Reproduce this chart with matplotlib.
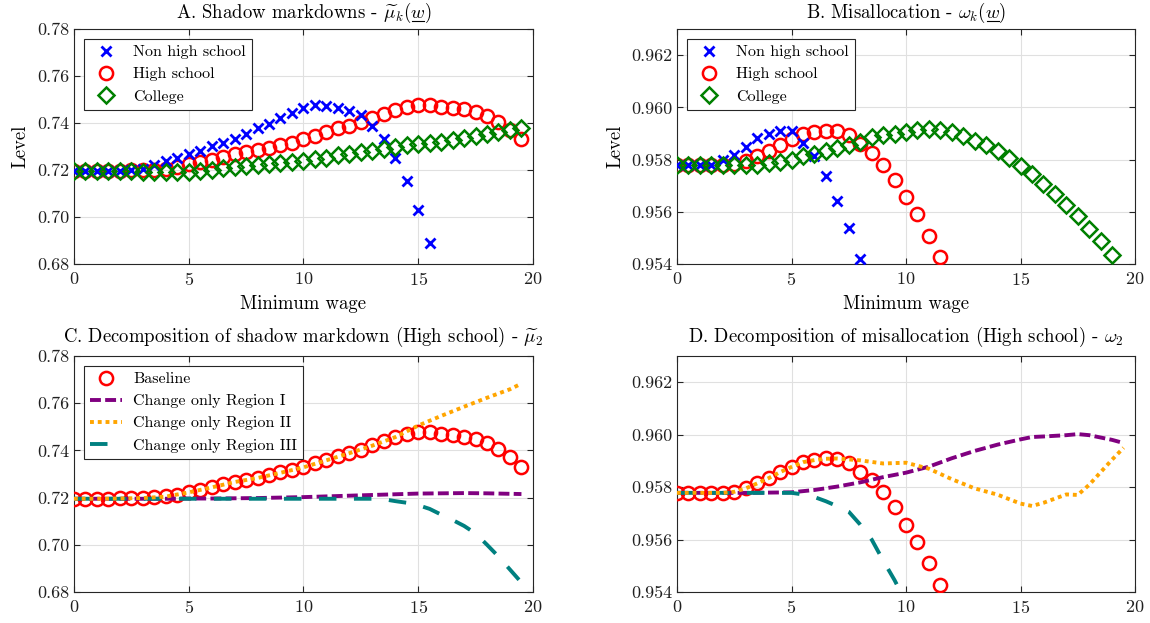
import numpy as np
import matplotlib
matplotlib.use('Agg')
import matplotlib.pyplot as plt
from matplotlib import rcParams
from matplotlib.ticker import FormatStrFormatter
from matplotlib.lines import Line2D

# 字体设置 (Computer Modern 风格)
config = {
    "font.family": 'serif',
    "font.serif": ['cmr10'],
    "mathtext.fontset": 'cm',
    "axes.formatter.use_mathtext": True,
    "font.size": 12,
    'axes.unicode_minus': False,
}
rcParams.update(config)

# ---------------- 数据 ----------------
wage = np.arange(0, 20, 0.5)

# Panel A: shadow markdowns
mu_nonhs = [0.7196, 0.7196, 0.7196, 0.7196, 0.7197, 0.7200, 0.7206, 0.7220, 0.7239, 0.7252,
            0.7269, 0.7283, 0.7301, 0.7313, 0.7331, 0.7352, 0.7379, 0.7395, 0.7423, 0.7444,
            0.7465, 0.7478, 0.7472, 0.7465, 0.7453, 0.7433, 0.7386, 0.7332, 0.7251, 0.7152,
            0.7032, 0.6890]
mu_hs = [0.7196, 0.7196, 0.7196, 0.7196, 0.7197, 0.7198, 0.7200, 0.7201, 0.7205, 0.7212,
         0.7224, 0.7234, 0.7244, 0.7256, 0.7268, 0.7276, 0.7284, 0.7294, 0.7307, 0.7316,
         0.7330, 0.7345, 0.7361, 0.7378, 0.7389, 0.7403, 0.7423, 0.7440, 0.7455, 0.7468,
         0.7477, 0.7477, 0.7469, 0.7465, 0.7458, 0.7447, 0.7430, 0.7406, 0.7372, 0.7330]
mu_col = [0.7194, 0.7194, 0.7194, 0.7194, 0.7194, 0.7194, 0.7193, 0.7193, 0.7193, 0.7193,
          0.7193, 0.7197, 0.7201, 0.7207, 0.7212, 0.7217, 0.7221, 0.7225, 0.7230, 0.7234,
          0.7239, 0.7245, 0.7251, 0.7262, 0.7268, 0.7276, 0.7282, 0.7289, 0.7297, 0.7306,
          0.7310, 0.7314, 0.7320, 0.7328, 0.7337, 0.7345, 0.7355, 0.7362, 0.7371, 0.7379]

# Panel B: misallocation
om_nonhs = [0.95778, 0.95778, 0.95778, 0.95778, 0.95797, 0.95819, 0.95850, 0.95884, 0.95898,
            0.95911, 0.95909, 0.95864, 0.95813, 0.95737, 0.95643, 0.95538, 0.95418]
om_hs = [0.95778, 0.95778, 0.95778, 0.95778, 0.95778, 0.95782, 0.95795, 0.95814, 0.95834,
         0.95857, 0.95877, 0.95897, 0.95904, 0.95911, 0.95909, 0.95893, 0.95859, 0.95826,
         0.95780, 0.95723, 0.95657, 0.95590, 0.95509, 0.95425]
om_col = [0.95778, 0.95778, 0.95778, 0.95778, 0.95778, 0.95778, 0.95780, 0.95780, 0.95788,
          0.95792, 0.95797, 0.95813, 0.95820, 0.95832, 0.95843, 0.95854, 0.95867, 0.95885,
          0.95895, 0.95897, 0.95904, 0.95912, 0.95916, 0.95912, 0.95904, 0.95890, 0.95873,
          0.95855, 0.95832, 0.95807, 0.95777, 0.95746, 0.95708, 0.95667, 0.95626, 0.95584,
          0.95536, 0.95488, 0.95436]

# Panel C: decomposition of mu_2
c_x1 = [0, 1, 2, 3, 4, 5, 6, 7, 8, 9, 10, 11, 12, 13, 14, 15, 16, 17, 18, 19, 19.5]
c_reg1 = [0.7195, 0.7195, 0.7195, 0.7195, 0.7195, 0.7196, 0.7196, 0.7197, 0.7198, 0.7200,
          0.7202, 0.7205, 0.7208, 0.7211, 0.7214, 0.7217, 0.7218, 0.7219, 0.7218, 0.7216, 0.7215]
c_x2 = [0, 1, 2, 3, 4, 5, 6, 7, 8, 9, 10, 11, 12, 13, 14, 15, 16, 17, 18, 19, 19.5]
c_reg2 = [0.7195, 0.7195, 0.7196, 0.7198, 0.7204, 0.7222, 0.7243, 0.7266, 0.7283, 0.7305,
          0.7328, 0.7358, 0.7388, 0.7420, 0.7456, 0.7505, 0.7546, 0.7585, 0.7623, 0.7659, 0.7683]
c_x3 = [0, 2, 4, 6, 8, 10, 12, 13, 13.5, 14, 14.5, 15, 15.5, 16, 16.5, 17, 17.5, 18, 18.5, 19, 19.5]
c_reg3 = [0.7195, 0.7195, 0.7195, 0.7195, 0.7195, 0.7195, 0.7195, 0.7195, 0.7193, 0.7185,
          0.7178, 0.7168, 0.7152, 0.7128, 0.7105, 0.7080, 0.7048, 0.7000, 0.6950, 0.6895, 0.6840]

# Panel D: decomposition of omega_2
d_x1 = [0, 1, 2, 3, 4, 5, 6, 7, 8, 9, 10, 11, 12, 13, 14, 15, 15.5, 16, 17, 17.5, 18, 19, 19.5]
d_reg1 = [0.95778, 0.95778, 0.95778, 0.95778, 0.95779, 0.95780, 0.95789, 0.95802, 0.95818,
          0.95838, 0.95855, 0.95878, 0.95910, 0.95938, 0.95962, 0.95982, 0.95991, 0.95993,
          0.95998, 0.96002, 0.95998, 0.95980, 0.95968]
d_x2 = [0, 1, 2, 2.5, 3, 3.5, 4, 4.5, 5, 5.5, 6, 6.5, 7, 8, 9, 10, 11, 12, 13, 14, 15, 15.5,
        16, 17, 17.5, 18, 19, 19.5]
d_reg2 = [0.95778, 0.95778, 0.95778, 0.95782, 0.95795, 0.95814, 0.95834, 0.95857, 0.95877,
          0.95895, 0.95903, 0.95908, 0.95909, 0.95902, 0.95890, 0.95893, 0.95870, 0.95830,
          0.95795, 0.95771, 0.95737, 0.95728, 0.95740, 0.95772, 0.95770, 0.95809, 0.95905, 0.95950]
d_x3 = [0, 1, 2, 3, 4, 5, 5.5, 6, 6.5, 7, 7.5, 8, 8.5, 9, 9.5, 10]
d_reg3 = [0.95778, 0.95778, 0.95778, 0.95778, 0.95778, 0.95778, 0.95772, 0.95762, 0.95746,
          0.95727, 0.95706, 0.95657, 0.95600, 0.95520, 0.95445, 0.95360]

# ---------------- 样式 ----------------
col_purple = '#800080'
col_orange = '#FFA500'
col_teal = '#008080'
axis_col = '#262626'
title_fs = 13.5

fig = plt.figure(figsize=(11.5, 6.23), dpi=100)
ax_a = fig.add_axes([0.0643, 0.5762, 0.3991, 0.3772])
ax_b = fig.add_axes([0.5887, 0.5762, 0.3983, 0.3772])
ax_c = fig.add_axes([0.0643, 0.0498, 0.3991, 0.3788])
ax_d = fig.add_axes([0.5887, 0.0498, 0.3983, 0.3788])


def style_axes(ax, ylim, yticks, fmt):
    ax.set_xlim(0, 20)
    ax.set_ylim(*ylim)
    ax.set_xticks([0, 5, 10, 15, 20])
    ax.set_yticks(yticks)
    ax.yaxis.set_major_formatter(FormatStrFormatter(fmt))
    ax.grid(True, color='#e0e0e0', linewidth=0.8)
    ax.set_axisbelow(True)
    ax.tick_params(direction='in', top=True, right=True, length=4, width=0.8,
                   colors=axis_col, labelsize=13, labelcolor='#202020')
    ax.tick_params(axis='x', pad=5)
    for s in ax.spines.values():
        s.set_color(axis_col)
        s.set_linewidth(0.8)


def add_legend(ax):
    leg = ax.legend(loc='upper left', fontsize=11.5, frameon=True, fancybox=False,
                    edgecolor=axis_col, framealpha=1, borderpad=0.4, labelspacing=0.5,
                    handlelength=2.0, handletextpad=0.7, borderaxespad=0.6)
    leg.get_frame().set_linewidth(0.8)


def underline_title(ax, head, tail):
    # mathtext 不支持 \underline，这里手动在 w 下画一条横线
    renderer = fig.canvas.get_renderer()
    t = ax.title
    full = t.get_window_extent(renderer)
    probe = fig.text(0, 0, head, fontsize=title_fs)
    w0 = probe.get_window_extent(renderer).width
    probe.set_text(head + tail)
    w1 = probe.get_window_extent(renderer).width
    probe.remove()
    x0 = full.x0 + w0 + 1
    x1 = full.x0 + w1 - 1
    y = full.y0 + 3.5
    inv = fig.transFigure.inverted()
    (fx0, fy), (fx1, _) = inv.transform([(x0, y), (x1, y)])
    fig.add_artist(Line2D([fx0, fx1], [fy, fy], color='black', lw=0.8))


mk = dict(linestyle='none')
circ = dict(marker='o', markersize=9.5, markerfacecolor='none', markeredgecolor='red',
            markeredgewidth=1.8, **mk)
cross = dict(marker='x', markersize=6.5, color='blue', markeredgewidth=2, **mk)
diam = dict(marker='D', markersize=8.5, markerfacecolor='none', markeredgecolor='green',
            markeredgewidth=1.8, **mk)

# 面板 A
ax_a.plot(wage[:len(mu_nonhs)], mu_nonhs, label='Non high school', zorder=4, **cross)
ax_a.plot(wage[:len(mu_hs)], mu_hs, label='High school', zorder=3, **circ)
ax_a.plot(wage[:len(mu_col)], mu_col, label='College', zorder=5, **diam)
style_axes(ax_a, (0.68, 0.78), [0.68, 0.70, 0.72, 0.74, 0.76, 0.78], '%.2f')
ax_a.set_title(r'A. Shadow markdowns - $\widetilde{\mu}_k(w)$', fontsize=title_fs, pad=8)
ax_a.set_xlabel('Minimum wage', fontsize=13.5, labelpad=5)
ax_a.set_ylabel('Level', fontsize=13.5, labelpad=5)
add_legend(ax_a)

# 面板 B
ax_b.plot(wage[:len(om_nonhs)], om_nonhs, label='Non high school', zorder=4, **cross)
ax_b.plot(wage[:len(om_hs)], om_hs, label='High school', zorder=3, **circ)
ax_b.plot(wage[:len(om_col)], om_col, label='College', zorder=5, **diam)
style_axes(ax_b, (0.954, 0.963), [0.954, 0.956, 0.958, 0.960, 0.962], '%.3f')
ax_b.set_title(r'B. Misallocation - $\omega_k(w)$', fontsize=title_fs, pad=8)
ax_b.set_xlabel('Minimum wage', fontsize=13.5, labelpad=5)
ax_b.set_ylabel('Level', fontsize=13.5, labelpad=5)
add_legend(ax_b)

# 面板 C
lw = 2.8
ax_c.plot(wage[:len(mu_hs)], mu_hs, label='Baseline', zorder=3, **circ)
ax_c.plot(c_x1, c_reg1, color=col_purple, lw=lw, linestyle=(0, (2.8, 1.1)),
          label='Change only Region I', zorder=4)
ax_c.plot(c_x2, c_reg2, color=col_orange, lw=lw, linestyle=(0, (1, 1)),
          label='Change only Region II', zorder=5)
ax_c.plot(c_x3, c_reg3, color=col_teal, lw=lw, linestyle=(0, (4.5, 4.5)),
          label='Change only Region III', zorder=4)
style_axes(ax_c, (0.68, 0.78), [0.68, 0.70, 0.72, 0.74, 0.76, 0.78], '%.2f')
ax_c.set_title(r'C. Decomposition of shadow markdown (High school) - $\widetilde{\mu}_2$',
               fontsize=title_fs, pad=10)
add_legend(ax_c)

# 面板 D
ax_d.plot(wage[:len(om_hs)], om_hs, zorder=3, **circ)
ax_d.plot(d_x1, d_reg1, color=col_purple, lw=lw, linestyle=(0, (2.8, 1.1)), zorder=4)
ax_d.plot(d_x2, d_reg2, color=col_orange, lw=lw, linestyle=(0, (1, 1)), zorder=5)
ax_d.plot(d_x3, d_reg3, color=col_teal, lw=lw, linestyle=(0, (4.5, 4.5)), zorder=4)
style_axes(ax_d, (0.954, 0.963), [0.954, 0.956, 0.958, 0.960, 0.962], '%.3f')
ax_d.set_title(r'D. Decomposition of misallocation (High school) - $\omega_2$',
               fontsize=title_fs, pad=10)

fig.canvas.draw()
underline_title(ax_a, r'A. Shadow markdowns - $\widetilde{\mu}_k($', r'$w$')
underline_title(ax_b, r'B. Misallocation - $\omega_k($', r'$w$')

fig.savefig('out.png', dpi=100)
